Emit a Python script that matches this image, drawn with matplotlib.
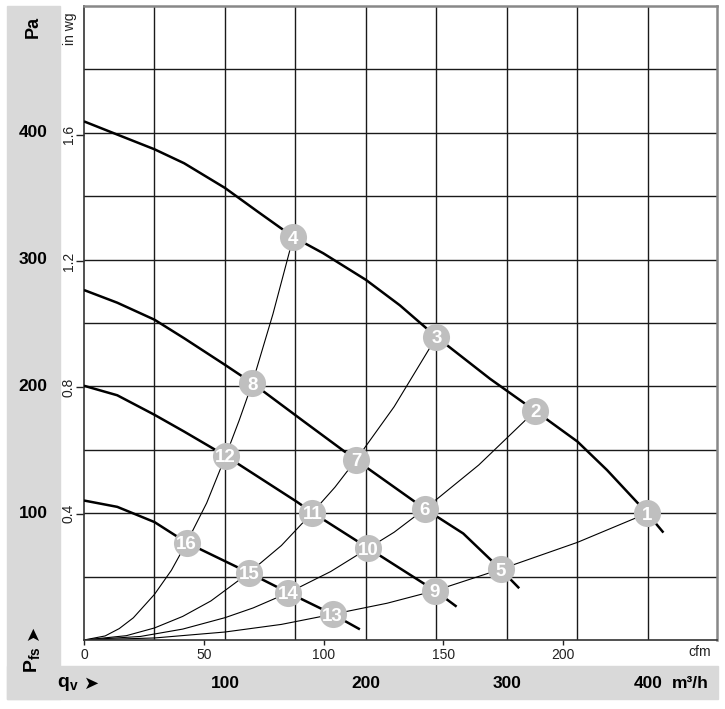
import numpy as np
import matplotlib
matplotlib.use("Agg")
import matplotlib.pyplot as plt
from matplotlib.patches import Rectangle
import matplotlib.transforms as mtransforms

plt.rcParams['font.family'] = ['Liberation Sans', 'DejaVu Sans']
plt.rcParams['mathtext.fontset'] = 'custom'
plt.rcParams['mathtext.rm'] = 'Liberation Sans'
plt.rcParams['mathtext.bf'] = 'Liberation Sans:bold'

# ---- data (qv in m3/h, pfs in Pa) ----
fanA_q = [0, 23.6, 50, 71, 100, 123, 148.5, 169.7, 200, 224, 250, 288, 320, 350, 371, 399.5, 411]
fanA_p = [409, 398.6, 387, 376, 356.5, 338, 317.8, 305, 284, 264, 239, 206, 180.7, 156.5, 134, 100, 84.7]
fanB_q = [0, 23.6, 50, 71, 100, 119.4, 156, 192.9, 241.8, 269, 295.5, 308.7]
fanB_p = [276, 266, 252.6, 238, 217, 202.6, 172.3, 142, 103.4, 84, 55.8, 40.8]
fanC_q = [0, 23.6, 50, 71, 100.5, 151, 162, 201.7, 249, 264.3]
fanC_p = [200.5, 193, 177.6, 164.4, 145.2, 109, 100.5, 72.4, 38.9, 26.3]
fanD_q = [0, 23.6, 50, 72.8, 117, 145, 176.4, 195.7]
fanD_p = [110, 105, 93, 76.8, 53, 37.3, 20.3, 8.4]

sys1_q = [0, 15, 25, 35, 50, 62, 72.8, 87, 100.5, 110, 119.4, 134, 148.5]
sys1_p = [0, 3.2, 9, 17.5, 36, 55, 76.8, 108, 145.2, 173, 202.6, 257, 317.8]
sys2_q = [0, 30, 50, 70, 90, 117, 140, 162, 178, 192.9, 220, 250]
sys2_p = [0, 3.4, 9.5, 18.6, 30.8, 53, 74.5, 100.5, 120.5, 142, 184, 239]
sys3_q = [0, 40, 70, 100, 120, 145, 175, 201.7, 220, 241.8, 280, 320]
sys3_p = [0, 2.8, 8.6, 17.6, 25.3, 37.3, 54, 72.4, 85, 103.4, 138, 180.7]
sys4_q = [0, 50, 100, 140, 176.4, 215, 249, 295.5, 350, 399.5]
sys4_p = [0, 1.6, 6.3, 12.3, 20.3, 29, 38.9, 55.8, 77, 100]

op_labels = ['1', '2', '3', '4', '5', '6', '7', '8', '9', '10', '11', '12', '13', '14', '15', '16']
op_q = [399.5, 320, 250, 148.5, 295.5, 241.8, 192.9, 119.4, 249, 201.7, 162, 100.5, 176.4, 145, 117, 72.8]
op_p = [100, 180.7, 239, 317.8, 55.8, 103.4, 142, 202.6, 38.9, 72.4, 100.5, 145.2, 20.3, 37.3, 53, 76.8]

pa_ticks = [100, 200, 300, 400]
inwg_ticks = [0.4, 0.8, 1.2, 1.6]
cfm_ticks = [0, 50, 100, 150, 200]
m3h_labels = [100, 200, 300]
PA_PER_INWG = 249.09
M3H_PER_CFM = 1.699

W, H = 725, 709
fig = plt.figure(figsize=(W / 100, H / 100), dpi=100)
fig.patch.set_facecolor('white')

gray = '#d9d9d9'
# left gray column and bottom strip
fig.patches.append(Rectangle((7 / W, 1 - 699 / H), (60 - 7) / W, (699 - 6) / H,
                             transform=fig.transFigure, color=gray, zorder=-5))
fig.patches.append(Rectangle((7 / W, 1 - 699 / H), (718 - 7) / W, (699 - 666) / H,
                             transform=fig.transFigure, color=gray, zorder=-5))

ax = fig.add_axes([84 / W, 1 - 640 / H, (717 - 84) / W, (640 - 6) / H])
ax.set_zorder(1)
ax.set_xlim(0, 449)
ax.set_ylim(0, 500)

for gx in range(50, 449, 50):
    ax.axvline(gx, color='#1a1a1a', lw=1.0, zorder=1)
for gy in range(50, 500, 50):
    ax.axhline(gy, color='#1a1a1a', lw=1.0, zorder=1)

for s in ['left', 'bottom']:
    ax.spines[s].set_color('#333333')
    ax.spines[s].set_linewidth(1.2)
for s in ['right', 'top']:
    ax.spines[s].set_color('#888888')
    ax.spines[s].set_linewidth(1.8)

for q, p in [(sys1_q, sys1_p), (sys2_q, sys2_p), (sys3_q, sys3_p), (sys4_q, sys4_p)]:
    ax.plot(q, p, color='black', lw=0.8, zorder=2, solid_joinstyle='round')
for q, p in [(fanA_q, fanA_p), (fanB_q, fanB_p), (fanC_q, fanC_p), (fanD_q, fanD_p)]:
    ax.plot(q, p, color='black', lw=1.8, zorder=3, solid_joinstyle='round', solid_capstyle='butt')

ax.plot(op_q, op_p, 'o', ms=19.5, color='#bfbfbf', mec='none', zorder=4)
for lab, q, p in zip(op_labels, op_q, op_p):
    ax.text(q, p, lab, color='white', fontsize=13.5, fontweight='bold',
            ha='center', va='center_baseline', zorder=5)

# cfm ticks on bottom
ax.set_xticks([c * M3H_PER_CFM for c in cfm_ticks], [str(c) for c in cfm_ticks])
ax.tick_params(axis='x', direction='out', length=3.6, width=1, pad=2.5, labelsize=10, colors='#222222')
# in wg ticks on left
ax.set_yticks([v * PA_PER_INWG for v in inwg_ticks], [str(v) for v in inwg_ticks])
ax.tick_params(axis='y', direction='out', length=5.5, width=1, pad=0.5, labelsize=10,
               colors='#222222', labelrotation=90)
for t in ax.get_yticklabels():
    t.set_va('center')

fig.text(700 / W, 1 - 652 / H, 'cfm', fontsize=10, ha='center', va='center', color='#222222')
fig.text(70 / W, 1 - 29 / H, 'in wg', rotation=90, fontsize=10, ha='center', va='center', color='#222222')
fig.text(33 / W, 1 - 27 / H, 'Pa', rotation=90, fontsize=13, fontweight='bold', ha='center', va='center')

# Pa labels in gray column
tr_y = mtransforms.blended_transform_factory(fig.transFigure, ax.transData)
for v in pa_ticks:
    fig.text(33 / W, v, str(v), transform=tr_y, fontsize=12.5, fontweight='bold',
             ha='center', va='center')

# m3/h labels in bottom strip
tr_x = mtransforms.blended_transform_factory(ax.transData, fig.transFigure)
yb = 1 - 684 / H
for v in m3h_labels:
    fig.text(v, yb, str(v), transform=tr_x, fontsize=12.5, fontweight='bold', ha='center', va='center')
fig.text(400, yb, '400', transform=tr_x, fontsize=12.5, fontweight='bold', ha='center', va='center')
fig.text(672 / W, yb, 'm³/h', fontsize=12.5, fontweight='bold', ha='left', va='center')

fig.text(57 / W, yb, r'$\mathbf{q}_{\mathbf{v}}$', fontsize=14, ha='left', va='center')
fig.text(92 / W, yb, '➤', fontsize=13, ha='center', va='center', family=['DejaVu Sans'])
fig.text(33 / W, 1 - 660 / H, r'$\mathbf{P}_{\mathbf{fs}}$', rotation=90, fontsize=14, ha='center', va='center')
fig.text(33 / W, 1 - 632 / H, '➤', rotation=90, fontsize=13, ha='center', va='center', family=['DejaVu Sans'])

fig.savefig('out.png', dpi=100)
